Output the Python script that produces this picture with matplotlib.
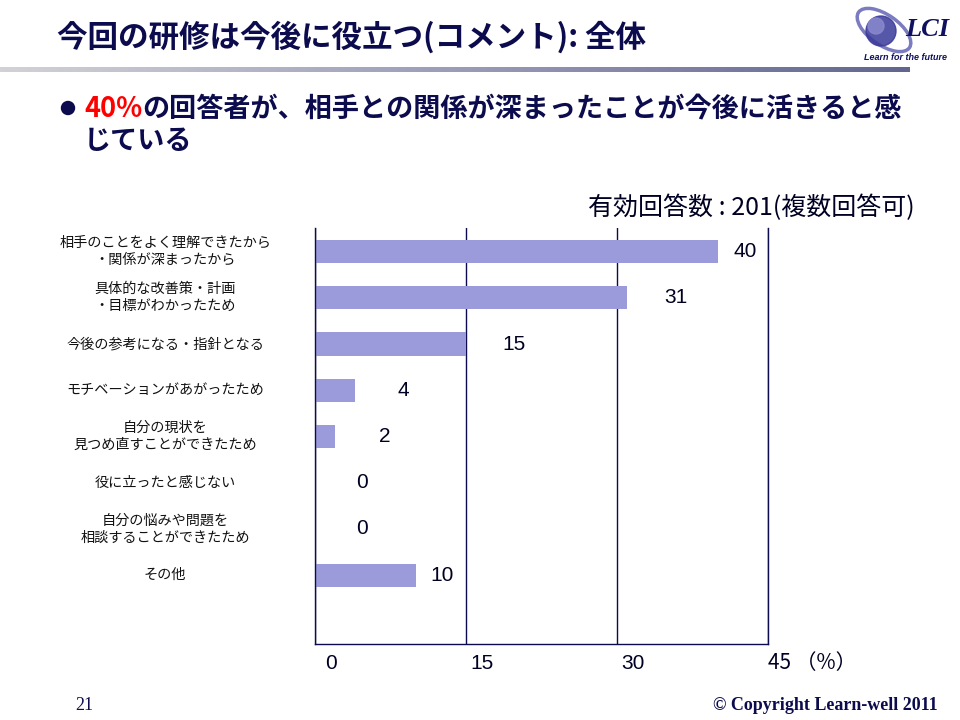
import numpy as np
import matplotlib.pyplot as plt
import matplotlib.transforms as mtransforms
from matplotlib.patches import Ellipse, Circle
from matplotlib.colors import LinearSegmentedColormap

plt.rcParams['font.family'] = ['Noto Sans CJK JP', 'DejaVu Sans']

# data
categories = [
    '相手のことをよく理解できたから\n・関係が深まったから',
    '具体的な改善策・計画\n・目標がわかったため',
    '今後の参考になる・指針となる',
    'モチベーションがあがったため',
    '自分の現状を\n見つめ直すことができたため',
    '役に立ったと感じない',
    '自分の悩みや問題を\n相談することができたため',
    'その他',
]
values = [40, 31, 15, 4, 2, 0, 0, 10]
xticks = [0, 15, 30, 45]
xtick_labels = ['0', '15', '30', '45 （%）']

title = '今回の研修は今後に役立つ(コメント): 全体'
highlight = '40%'
summary_1 = 'の回答者が、相手との関係が深まったことが今後に活きると感'
summary_2 = 'じている'
note = '有効回答数 : 201(複数回答可)'

navy = '#0b0b4d'
bar_color = '#9b9bdc'
# offsets (in %) of the value labels from the bar end
label_off = [2.7, 4.8, 4.8, 4.8, 4.9, 4.7, 4.7, 2.6]

fig = plt.figure(figsize=(9.6, 7.2), dpi=100)

# overlay in pixel coords for slide decorations
deco = fig.add_axes([0, 0, 1, 1])
deco.axis('off')

# title and gradient rule
deco.text(57, 37, title, fontsize=22, fontweight='bold', color=navy, va='center', ha='left')
grad = np.linspace(0, 1, 256).reshape(1, -1)
cm = LinearSegmentedColormap.from_list('rule', ['#d2d2d6', '#9a9cb8', '#62668f'])
deco.imshow(grad, cmap=cm, extent=[0, 910, 72, 67], aspect='auto', zorder=1)

# logo
deco.add_patch(Ellipse((884, 30), 62, 30, angle=35, fill=False, ec='#5a5ab0', lw=2.5, alpha=0.8))
deco.add_patch(Circle((881, 31), 15, color='#3a3a9a', alpha=0.85))
deco.add_patch(Circle((876, 26), 8, color='#8c8cd0', alpha=0.8))
deco.text(905, 30, 'LCI', fontsize=19, fontweight='bold', fontstyle='italic',
          family='Liberation Serif', color='#101060', va='center')
deco.text(905, 58, 'Learn for the future', fontsize=6.5, fontweight='bold', fontstyle='italic',
          family='Liberation Sans', color='#101060', va='center', ha='center')
deco.set_xlim(0, 960)
deco.set_ylim(720, 0)

# bullet text
deco.add_patch(Circle((68, 108), 6.5, color=navy))
t1 = deco.text(84, 109, highlight, fontsize=19.5, fontweight='bold', color='#ff0000',
               va='center', ha='left')
deco.annotate(summary_1, xy=(1, 0), xycoords=t1, va='bottom', ha='left',
              fontsize=19.5, fontweight='bold', color=navy)
deco.text(84, 141, summary_2, fontsize=19.5, fontweight='bold', color=navy,
          va='center', ha='left')

# note above chart
deco.text(915, 208, note, fontsize=18, color='#000022', va='center', ha='right')

# footer
deco.text(75, 706, '21', fontsize=13, family='Liberation Serif', color=navy,
          va='center', ha='left')
deco.text(938, 706, '© Copyright Learn-well 2011', fontsize=13, fontweight='bold',
          family='Liberation Serif', color=navy, va='center', ha='right')

# bar chart
ax = fig.add_axes([315 / 960, 1 - 644 / 720, 453 / 960, 416 / 720])
y = np.arange(len(values))
ax.barh(y, values, height=0.5, color=bar_color, zorder=2)
ax.set_xlim(0, 45)
ax.set_ylim(len(values) - 1 + 1.49, -0.51)
ax.set_xticks(xticks)
ax.set_xticklabels([])
ax.set_yticks([])
ax.tick_params(length=0)
ax.grid(axis='x', color=navy, lw=1, zorder=1)
for s in ['left', 'bottom', 'right']:
    ax.spines[s].set_color(navy)
    ax.spines[s].set_linewidth(1)
ax.spines['top'].set_visible(False)

for i, v in enumerate(values):
    ax.text(v + label_off[i], i, str(v), fontsize=15, family='Liberation Sans',
            color='#000022', va='center', ha='center')

ytr = ax.get_yaxis_transform()
for i, c in enumerate(categories):
    ax.text(-0.331, i, c, transform=ytr, fontsize=10.2, color='#111111',
            va='center', ha='center', linespacing=1.3)

xtr = ax.get_xaxis_transform()
shift = mtransforms.ScaledTranslation(16 / 100, 0, fig.dpi_scale_trans)
for tx, lab in zip(xticks[:-1], xtick_labels[:-1]):
    ax.text(tx, -0.046, lab, transform=xtr + shift, fontsize=15, family='Liberation Sans',
            color='#000022', va='center', ha='center')
ax.text(xticks[-1], -0.046, xtick_labels[-1], transform=xtr, fontsize=15,
        color='#000022', va='center', ha='left')

fig.savefig('out.png', dpi=100)
